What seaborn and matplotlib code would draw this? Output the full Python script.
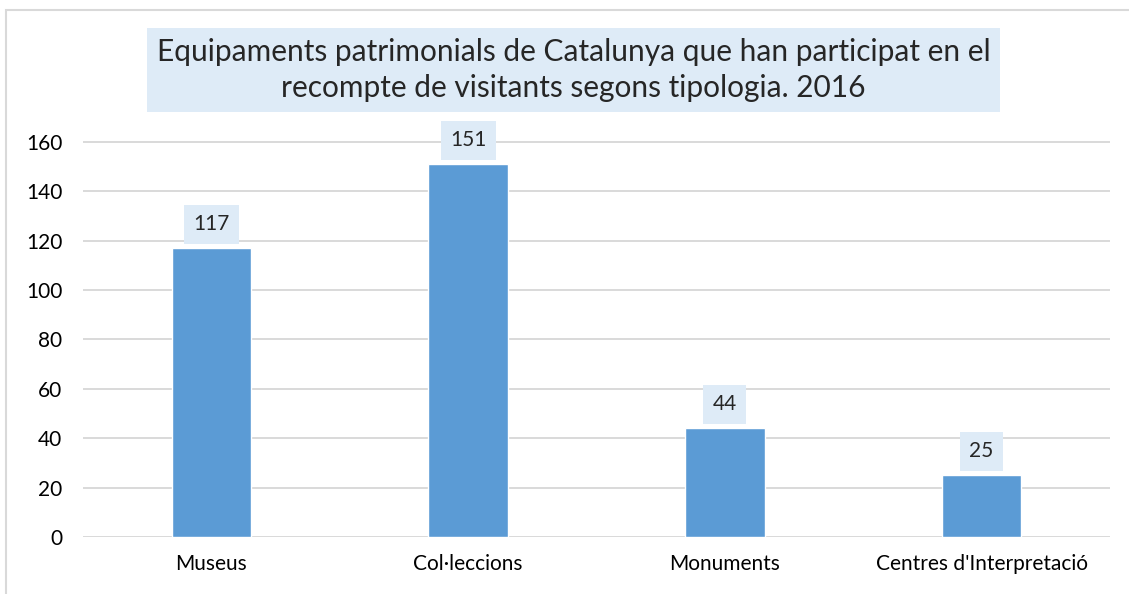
import matplotlib
matplotlib.use("Agg")
import matplotlib.pyplot as plt
import seaborn as sns
import pandas as pd
from matplotlib.patches import Rectangle

# data
categories = ["Museus", "Col·leccions", "Monuments", "Centres d'Interpretació"]
values = [117, 151, 44, 25]
yticks = [0, 20, 40, 60, 80, 100, 120, 140, 160]
title = ("Equipaments patrimonials de Catalunya que han participat en el\n"
         "recompte de visitants segons tipologia. 2016")

df = pd.DataFrame({"tipologia": categories, "equipaments": values})

sns.set_style("white")
plt.rcParams['font.family'] = ['Lato', 'DejaVu Sans']

fig = plt.figure(figsize=(11.29, 5.94), dpi=100)
ax = fig.add_axes([83/1129, 1-537/594, (1110-83)/1129, (537-137)/594])

sns.barplot(data=df, x="tipologia", y="equipaments", color="#5B9BD5",
            width=0.31, saturation=1, ax=ax)

ax.set_ylim(0, 162)
ax.set_xlim(-0.5, len(categories)-0.5)
ax.set_yticks(yticks)
ax.yaxis.grid(True, color="#D9D9D9", lw=1.4)
ax.set_axisbelow(True)
for s in ax.spines.values():
    s.set_visible(False)
ax.tick_params(axis="both", length=0, labelsize=15, colors="black")
ax.tick_params(axis="y", pad=15)
ax.tick_params(axis="x", pad=12)
ax.set_xlabel("")
ax.set_ylabel("")

ax.bar_label(ax.containers[0], padding=10, fontsize=15,
             bbox=dict(boxstyle="square,pad=0.45", fc="#DEEBF7", ec="none"))

# chart title with shaded box
fig.text(573.5/1129, 1-70/594, title, ha="center", va="center", fontsize=21.5,
         linespacing=1.38,
         bbox=dict(boxstyle="square,pad=0.32", fc="#DEEBF7", ec="none"))

# outer chart frame (cut at right and bottom)
fig.add_artist(Rectangle((6/1129, -0.05), 1.1, 1.05-10/594, transform=fig.transFigure,
                         fill=False, ec="#D9D9D9", lw=1.5))

fig.savefig("out.png", dpi=100)
